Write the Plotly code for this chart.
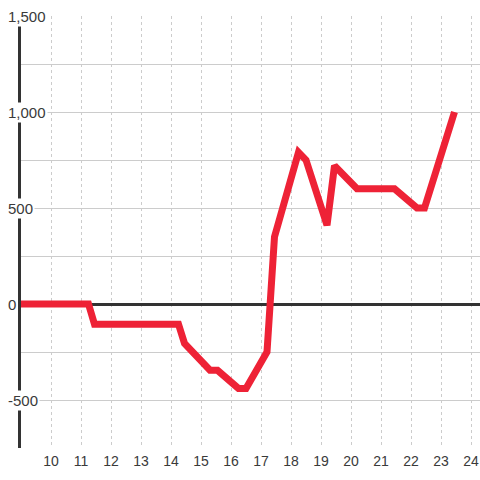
import plotly.graph_objects as go

hours = [9.0, 11.25, 11.45, 14.25, 14.45, 15.3, 15.55, 16.25, 16.5, 17.2, 17.45,
         18.25, 18.5, 19.2, 19.45, 20.2, 21.45, 22.2, 22.45, 23.45]
values = [0, 0, -105, -105, -205, -345, -345, -440, -440, -250, 350,
          790, 750, 410, 720, 600, 600, 500, 500, 1000]
y_ticks = [1500, 1000, 500, 0, -500]
y_tick_labels = ["1,500", "1,000", "500", "0", "-500"]
x_ticks = list(range(10, 25))

fig = go.Figure()
fig.add_trace(go.Scatter(x=hours, y=values, mode="lines",
                         line=dict(color="#ee2236", width=7), hoverinfo="skip"))

for v, t in zip(y_ticks, y_tick_labels):
    fig.add_annotation(x=-0.033, xref="paper", xanchor="left", y=v, yref="y",
                       yanchor="middle", text=t, showarrow=False,
                       bgcolor="white", borderpad=1,
                       font=dict(family="Liberation Sans, Arial", size=15, color="#3a3a3a"))

fig.update_layout(
    width=480, height=480,
    margin=dict(l=21, r=0, t=16, b=32),
    paper_bgcolor="white", plot_bgcolor="white",
    showlegend=False,
    xaxis=dict(range=[9.0, 24.3], tickvals=x_ticks, showgrid=True,
               gridcolor="#cccccc", gridwidth=1, griddash="3px,3px",
               zeroline=False, showline=False, ticks="", ticklabelstandoff=3,
               tickfont=dict(family="Liberation Sans, Arial", size=14, color="#3a3a3a")),
    yaxis=dict(range=[-750, 1500], dtick=250, showgrid=True,
               gridcolor="#cccccc", gridwidth=1, showticklabels=False,
               zeroline=True, zerolinecolor="#333333", zerolinewidth=3,
               showline=True, linecolor="#333333", linewidth=3, ticks=""),
)

fig.write_html("out.html", config={"displayModeBar": False},
               post_script="document.body.style.margin='0';document.body.style.padding='0';")
